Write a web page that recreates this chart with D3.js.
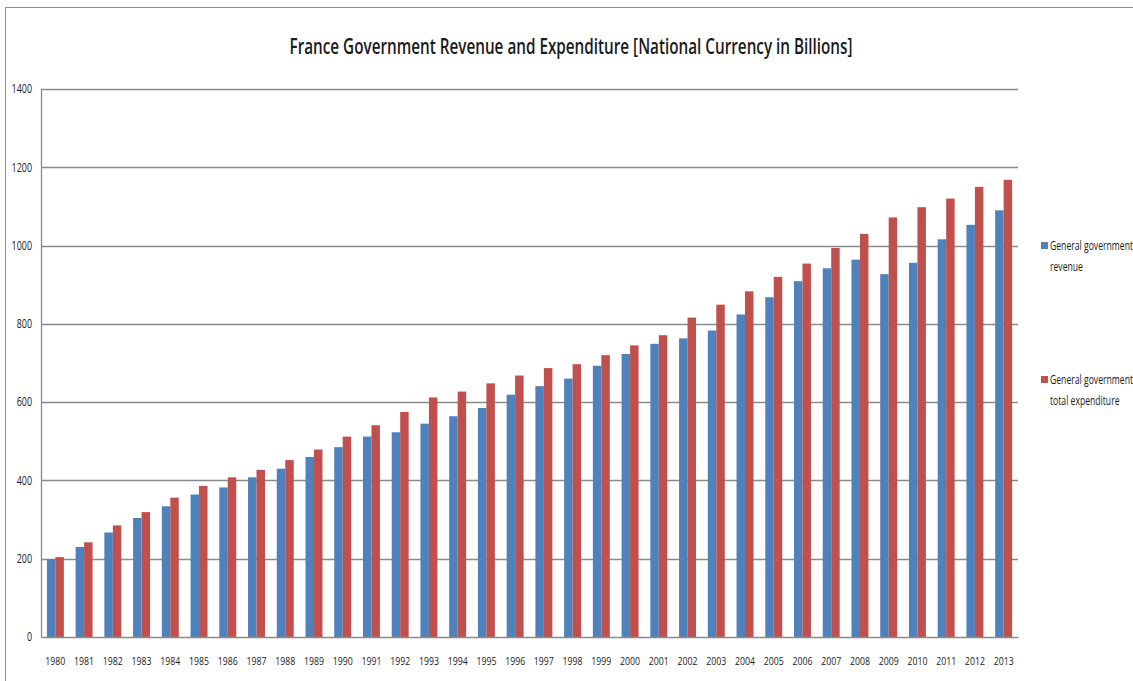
<!DOCTYPE html>
<html>
<head>
<meta charset="utf-8">
<script src="https://cdn.jsdelivr.net/npm/d3@7"></script>
<style>
  html, body { margin: 0; padding: 0; background: #fff; }
  svg { display: block; }
  text { font-family: "Open Sans", "Liberation Sans", sans-serif; fill: #1a1a1a; }
</style>
</head>
<body>
<svg id="chart" width="1133" height="681"></svg>
<script>
// Years on the category axis
const years = ["1980","1981","1982","1983","1984","1985","1986","1987","1988","1989",
  "1990","1991","1992","1993","1994","1995","1996","1997","1998","1999",
  "2000","2001","2002","2003","2004","2005","2006","2007","2008","2009",
  "2010","2011","2012","2013"];

// General government revenue (billions)
const revenue = [199, 230, 267, 304, 334, 364, 382, 408, 430, 460,
  485, 512, 523, 545, 564, 585, 619, 641, 660, 693,
  723, 749, 763, 783, 824, 868, 909, 942, 964, 927,
  956, 1016, 1053, 1090];

// General government total expenditure (billions)
const expenditure = [204, 242, 285, 319, 356, 386, 408, 427, 452, 479,
  512, 541, 575, 612, 627, 648, 668, 687, 697, 720,
  745, 771, 816, 849, 883, 920, 954, 994, 1030, 1072,
  1098, 1120, 1150, 1168];

const yTicks = [0, 200, 400, 600, 800, 1000, 1200, 1400];
const seriesNames = [["General government", "revenue"], ["General government", "total expenditure"]];
const colors = ["#4F81BD", "#C0504D"];
const titleText = "France Government Revenue and Expenditure [National Currency in Billions]";

const svg = d3.select("#chart");

// condensed look: squeeze glyphs horizontally to a per-character width
const squeeze = (sel, perChar) => sel
  .attr("textLength", function () { return this.textContent.length * perChar; })
  .attr("lengthAdjust", "spacingAndGlyphs");

// outer chart frame (only its left and top edges fall inside the view)
svg.append("rect")
  .attr("x", 5.5).attr("y", 7.5)
  .attr("width", 1200).attr("height", 800)
  .attr("fill", "none").attr("stroke", "#8c8c8c").attr("stroke-width", 1);

const plot = { left: 41, right: 1018, top: 89, bottom: 637 };

const x = d3.scaleBand().domain(years)
  .range([plot.left, plot.right])
  .paddingInner(0.41).paddingOuter(0.205);
const xSub = d3.scaleBand().domain([0, 1]).range([0, x.bandwidth()]);
const y = d3.scaleLinear().domain([0, 1400]).range([plot.bottom, plot.top]);

// title
svg.append("text")
  .attr("x", 571).attr("y", 54)
  .attr("text-anchor", "middle")
  .attr("font-size", 21)
  .attr("font-weight", 600)
  .attr("fill", "#111")
  .attr("textLength", 563).attr("lengthAdjust", "spacingAndGlyphs")
  .text(titleText);

// horizontal gridlines
svg.append("g").selectAll("line")
  .data(yTicks.filter(d => d > 0))
  .join("line")
  .attr("x1", plot.left).attr("x2", plot.right)
  .attr("y1", d => Math.round(y(d)) + 0.5).attr("y2", d => Math.round(y(d)) + 0.5)
  .attr("stroke", "#8a8a8a").attr("stroke-width", 1.3);

// y axis labels
const yAxis = d3.axisLeft(y).tickValues(yTicks).tickFormat(d3.format("d")).tickSize(0).tickPadding(9);
const gy = svg.append("g").attr("transform", `translate(${plot.left},0)`).call(yAxis);
gy.select(".domain").attr("stroke", "#8a8a8a").attr("stroke-width", 1.3);
gy.selectAll("text").attr("font-size", 12).attr("fill", "#1a1a1a")
  .style("font-family", '"Open Sans", sans-serif')
  .call(squeeze, 5.1);

// bars
const groups = svg.append("g").selectAll("g")
  .data(years)
  .join("g")
  .attr("transform", d => `translate(${x(d)},0)`);

groups.append("rect")
  .attr("x", xSub(0)).attr("width", xSub.bandwidth())
  .attr("y", (d, i) => y(revenue[i]))
  .attr("height", (d, i) => y(0) - y(revenue[i]))
  .attr("fill", colors[0]);

groups.append("rect")
  .attr("x", xSub(1)).attr("width", xSub.bandwidth())
  .attr("y", (d, i) => y(expenditure[i]))
  .attr("height", (d, i) => y(0) - y(expenditure[i]))
  .attr("fill", colors[1]);

// x axis
const xAxis = d3.axisBottom(x).tickSize(0).tickPadding(20);
const gx = svg.append("g").attr("transform", `translate(0,${plot.bottom})`).call(xAxis);
gx.select(".domain").attr("stroke", "#8a8a8a").attr("stroke-width", 1.3);
gx.selectAll("text").attr("font-size", 11.5).attr("fill", "#1a1a1a")
  .style("font-family", '"Open Sans", sans-serif')
  .call(squeeze, 5);

// legend: swatch plus two-line label, label squeezed horizontally
const legend = svg.append("g").selectAll("g")
  .data(seriesNames)
  .join("g")
  .attr("transform", (d, i) => `translate(1041,${[247, 381][i]})`);
legend.append("rect")
  .attr("x", 0).attr("y", -5).attr("width", 7).attr("height", 7)
  .attr("fill", (d, i) => colors[i]);
legend.append("g")
  .attr("transform", "translate(9,0) scale(0.72,1)")
  .selectAll("text")
  .data(d => d)
  .join("text")
  .attr("x", 0)
  .attr("y", (d, i) => i * 21)
  .attr("font-size", 12)
  .attr("dominant-baseline", "middle")
  .text(d => d);
</script>
</body>
</html>
